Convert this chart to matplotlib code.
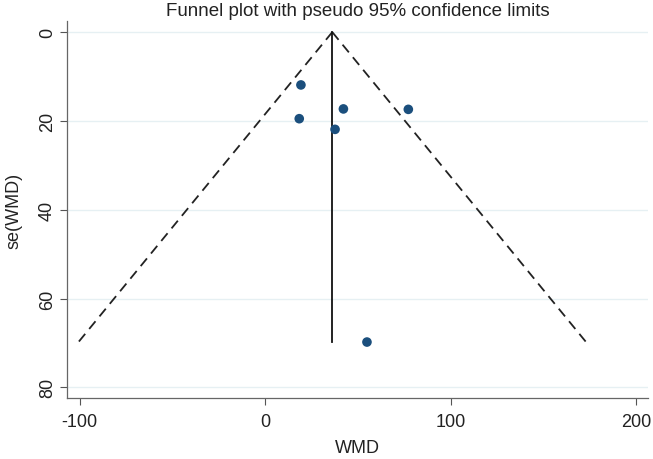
import numpy as np
import matplotlib.pyplot as plt

plt.rcParams['font.family'] = ['Liberation Sans', 'DejaVu Sans']
plt.rcParams['axes.unicode_minus'] = False

# study estimates
wmd = [19.2, 18.3, 42.1, 77.1, 37.6, 54.8]
se_wmd = [11.9, 19.5, 17.3, 17.4, 21.9, 69.8]
pooled = 36.1
se_max = 69.8

fig = plt.figure(figsize=(6.53, 4.6), dpi=100)
ax = fig.add_axes([67 / 653, 61 / 460, 581 / 653, 377 / 460])

# grid lines
for yv in [0, 20, 40, 60, 80]:
    ax.axhline(yv, color='#e6f0f3', lw=1, zorder=0)

# pseudo 95% limits
se_line = np.array([0, se_max])
ax.plot(pooled - 1.96 * se_line, se_line, color='#222222', lw=1.3, ls=(0, (5.5, 3.5)))
ax.plot(pooled + 1.96 * se_line, se_line, color='#222222', lw=1.3, ls=(0, (5.5, 3.5)))
ax.plot([pooled, pooled], [0, se_max], color='#111111', lw=1.3)

ax.scatter(wmd, se_wmd, s=48, color='#1b4f7d', zorder=3, edgecolors='none')

ax.set_xlim(-106.9, 206.3)
ax.set_ylim(82.4, -2.5)
ax.set_xticks([-100, 0, 100, 200])
ax.set_yticks([0, 20, 40, 60, 80])
ax.tick_params(axis='both', labelsize=13, color='#555555', length=5, width=0.8,
               labelcolor='#222222')
ax.tick_params(axis='x', pad=6)
ax.tick_params(axis='y', pad=3)
plt.setp(ax.get_yticklabels(), rotation=90, va='center')

for s in ['top', 'right']:
    ax.spines[s].set_visible(False)
for s in ['left', 'bottom']:
    ax.spines[s].set_color('#666666')
    ax.spines[s].set_linewidth(0.9)

ax.set_xlabel('WMD', fontsize=13, labelpad=6, color='#222222')
ax.set_ylabel('se(WMD)', fontsize=13, labelpad=12, color='#222222')
ax.set_title('Funnel plot with pseudo 95% confidence limits', fontsize=13.5, pad=4,
             color='#222222')

fig.savefig('out.png', dpi=100)
